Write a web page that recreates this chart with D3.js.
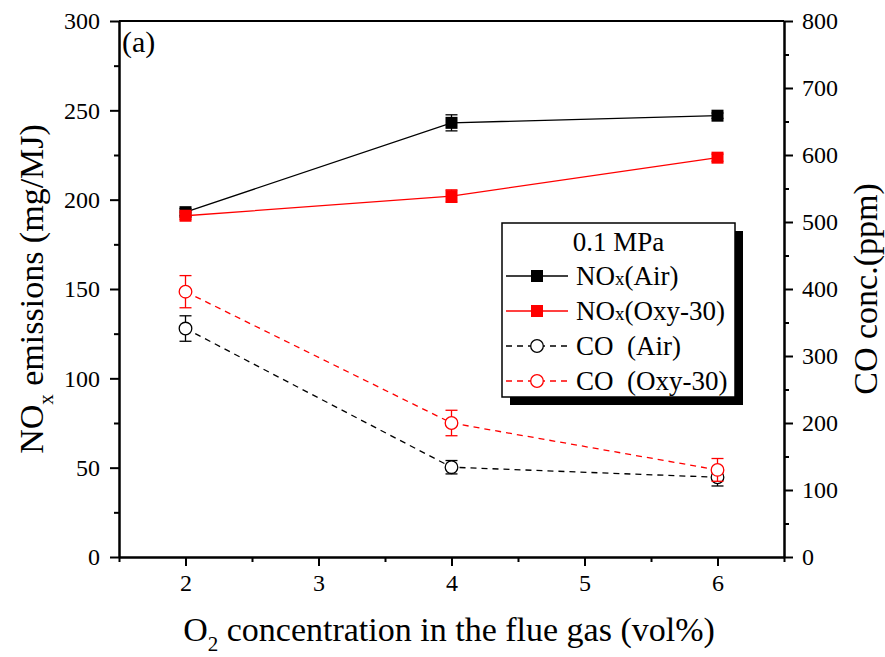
<!DOCTYPE html>
<html><head><meta charset="utf-8">
<script src="https://d3js.org/d3.v7.min.js"></script>
<style>
body{margin:0;background:#fff;}
svg{display:block;font-family:"Liberation Serif","Times New Roman",serif;}
text{white-space:pre;}
</style>
</head><body>
<svg id="chart" width="885" height="657"></svg>
<script>
// ---- data ----
const o2 = [2, 4, 6];
const noxAir = [193, 243, 247];
const noxAirErr = [2, 4.5, 1.5];
const noxOxy = [191, 202, 223.5];
const noxOxyErr = [2, 3.5, 2];
const coAir = [341, 134, 119];
const coAirErr = [19, 10, 13];
const coOxy = [396, 200, 130];
const coOxyErr = [24, 19, 17];
const xTicks = [2, 3, 4, 5, 6];
const yLeftTicks = [0, 50, 100, 150, 200, 250, 300];
const yRightTicks = [0, 100, 200, 300, 400, 500, 600, 700, 800];
const legendTitle = "0.1 MPa";

const svg = d3.select("#chart");
const L = 119, R = 784, T = 21, B = 557;
const x = d3.scaleLinear().domain([1.5, 6.5]).range([L, R]);
const yL = d3.scaleLinear().domain([0, 300]).range([B, T]);
const yR = d3.scaleLinear().domain([0, 800]).range([B, T]);

const tickFont = 24;
// axes
const axB = d3.axisBottom(x).tickValues(xTicks).tickSize(9).tickSizeOuter(0).tickFormat(d3.format("d"));
const axBm = d3.axisBottom(x).tickValues([1.5,2.5,3.5,4.5,5.5,6.5]).tickSize(5).tickSizeOuter(0).tickFormat("");
const axL = d3.axisLeft(yL).tickValues(yLeftTicks).tickSize(9).tickSizeOuter(0);
const axLm = d3.axisLeft(yL).tickValues([25,75,125,175,225,275]).tickSize(5).tickSizeOuter(0).tickFormat("");
const axR = d3.axisRight(yR).tickValues(yRightTicks).tickSize(9).tickSizeOuter(0);
const axRm = d3.axisRight(yR).tickValues([50,150,250,350,450,550,650,750]).tickSize(5).tickSizeOuter(0).tickFormat("");

function style(g){
  g.selectAll("path.domain").attr("stroke","#000").attr("stroke-width",2);
  g.selectAll("line").attr("stroke","#000").attr("stroke-width",2);
  g.selectAll("text").attr("font-family","Liberation Serif").attr("font-size",tickFont).attr("fill","#000");
}
svg.append("g").attr("transform",`translate(0,${B})`).call(axBm).call(style);
const gb = svg.append("g").attr("transform",`translate(0,${B})`).call(axB).call(style);
gb.selectAll("text").attr("dy","0").attr("y",34);
svg.append("g").attr("transform",`translate(${L},0)`).call(axLm).call(style);
const gl = svg.append("g").attr("transform",`translate(${L},0)`).call(axL).call(style);
gl.selectAll("text").attr("x",-19).attr("dy","0.33em");
svg.append("g").attr("transform",`translate(${R},0)`).call(axRm).call(style);
const gr = svg.append("g").attr("transform",`translate(${R},0)`).call(axR).call(style);
gr.selectAll("text").attr("x",18).attr("dy","0.33em");
// top frame line
svg.append("line").attr("x1",L).attr("x2",R).attr("y1",T).attr("y2",T).attr("stroke","#000").attr("stroke-width",2);

// series
const series = [
  {vals:noxAir, err:noxAirErr, y:yL, color:"#000", dash:null, marker:"square"},
  {vals:noxOxy, err:noxOxyErr, y:yL, color:"#ff0000", dash:null, marker:"square"},
  {vals:coAir, err:coAirErr, y:yR, color:"#000", dash:"6,5", marker:"circle"},
  {vals:coOxy, err:coOxyErr, y:yR, color:"#ff0000", dash:"6,5", marker:"circle"}
];
const plot = svg.append("g");
series.forEach(s=>{
  const pts = o2.map((d,i)=>({x:d, v:s.vals[i], e:s.err[i]}));
  const line = d3.line().x(d=>x(d.x)).y(d=>s.y(d.v));
  plot.append("path").attr("d",line(pts)).attr("fill","none").attr("stroke",s.color)
    .attr("stroke-width",1.3).attr("stroke-dasharray",s.dash);
  const g = plot.append("g");
  pts.forEach(p=>{
    const cx = x(p.x), y1 = s.y(p.v - p.e), y2 = s.y(p.v + p.e);
    g.append("line").attr("x1",cx).attr("x2",cx).attr("y1",y1).attr("y2",y2).attr("stroke",s.color).attr("stroke-width",1.3);
    [y1,y2].forEach(yy=>g.append("line").attr("x1",cx-6).attr("x2",cx+6).attr("y1",yy).attr("y2",yy).attr("stroke",s.color).attr("stroke-width",1.3));
  });
  pts.forEach(p=>{
    const cx = x(p.x), cy = s.y(p.v);
    if(s.marker==="square"){
      g.append("rect").attr("x",cx-6).attr("y",cy-6).attr("width",12).attr("height",12).attr("fill",s.color);
    } else {
      g.append("circle").attr("cx",cx).attr("cy",cy).attr("r",6.3).attr("fill","#fff").attr("stroke",s.color).attr("stroke-width",1.3);
    }
  });
});

// legend
const lx = 502, ly = 223, lw = 233, lh = 174;
svg.append("rect").attr("x",lx+8).attr("y",ly+8).attr("width",lw).attr("height",lh).attr("fill","#000");
svg.append("rect").attr("x",lx).attr("y",ly).attr("width",lw).attr("height",lh).attr("fill","#fff").attr("stroke","#000").attr("stroke-width",1.5);
const legFont = 27;
svg.append("text").attr("x",lx+lw/2).attr("y",ly+28).attr("text-anchor","middle").attr("font-size",legFont).text(legendTitle);
const legItems = [
  {s:series[0], label:["NO","x","(Air)"]},
  {s:series[1], label:["NO","x","(Oxy-30)"]},
  {s:series[2], label:["CO  (Air)"]},
  {s:series[3], label:["CO  (Oxy-30)"]}
];
legItems.forEach((it,i)=>{
  const cy = ly + 53 + i*35;
  const s = it.s;
  svg.append("line").attr("x1",lx+4).attr("x2",lx+66).attr("y1",cy).attr("y2",cy)
    .attr("stroke",s.color).attr("stroke-width",1.3).attr("stroke-dasharray",s.dash);
  const mx = lx+35;
  if(s.marker==="square"){
    svg.append("rect").attr("x",mx-6).attr("y",cy-6).attr("width",12).attr("height",12).attr("fill",s.color);
  } else {
    svg.append("circle").attr("cx",mx).attr("cy",cy).attr("r",6.3).attr("fill","#fff").attr("stroke",s.color).attr("stroke-width",1.3);
  }
  const t = svg.append("text").attr("x",lx+74).attr("y",cy+9).attr("font-size",legFont);
  if(it.label.length===3){
    t.append("tspan").text(it.label[0]);
    t.append("tspan").attr("font-size",19).text(it.label[1]);
    t.append("tspan").text(it.label[2]);
  } else t.text(it.label[0]);
});

// annotation
svg.append("text").attr("x",122).attr("y",52).attr("font-size",30).text("(a)");

// axis titles
const titleFont = 34;
const xt = svg.append("text").attr("x",449).attr("y",641).attr("text-anchor","middle").attr("font-size",titleFont);
xt.append("tspan").text("O");
xt.append("tspan").attr("font-size",21).attr("dy",10).text("2");
xt.append("tspan").attr("dy",-10).text(" concentration in the flue gas (vol%)");

const yt = svg.append("text").attr("transform",`translate(43,${(T+B)/2}) rotate(-90)`).attr("text-anchor","middle").attr("font-size",titleFont);
yt.append("tspan").text("NO");
yt.append("tspan").attr("font-size",21).attr("dy",10).text("x");
yt.append("tspan").attr("dy",-10).text(" emissions (mg/MJ)");

svg.append("text").attr("transform",`translate(877,${(T+B)/2}) rotate(-90)`).attr("text-anchor","middle").attr("font-size",titleFont).text("CO conc.(ppm)");
</script>
</body></html>
